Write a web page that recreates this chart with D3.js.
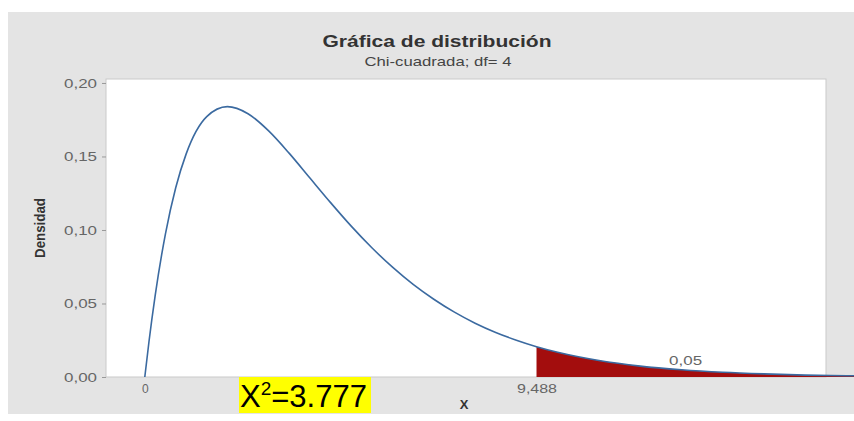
<!DOCTYPE html>
<html><head><meta charset="utf-8">
<script src="https://cdn.jsdelivr.net/npm/d3@7"></script>
<style>body{margin:0;background:#fff}svg{display:block}</style>
</head><body>
<svg id="c" width="854" height="421"></svg>
<script>
const xValues = [0,0.1,0.25,0.5,0.75,1,1.5,2,2.5,3,3.5,4,4.5,5,5.5,6,6.5,7,7.5,8,8.5,9,9.488,10,11,12,13,14,15,16,17,17.2];
const density = [0,0.0238,0.0552,0.0974,0.1289,0.1516,0.1771,0.1839,0.1791,0.1674,0.1521,0.1353,0.1186,0.1026,0.0879,0.0747,0.0630,0.0529,0.0441,0.0366,0.0303,0.0250,0.0206,0.0168,0.0112,0.0074,0.0049,0.0032,0.0021,0.0013,0.0009,0.0008];
const yTicks = [0,0.05,0.10,0.15,0.20];
const xTicks = [0,9.488];
const xTickLabels = ["0","9,488"];
const critical = 9.488;
const tailLabel = "0,05";
const title = "Gráfica de distribución";
const subtitle = "Chi-cuadrada; df= 4";
const statValue = "3.777";

const FONT = "Liberation Sans, Arial, sans-serif";
const svg = d3.select("#c");
const L=106,R=826,T=79,B=377;
svg.append("rect").attr("x",8).attr("y",12).attr("width",846).attr("height",402).attr("fill","#e4e4e4");
svg.append("rect").attr("x",L).attr("y",T).attr("width",R-L).attr("height",B-T).attr("fill","#fff").attr("stroke","#c9c9c9").attr("stroke-width",1);

const x = d3.scaleLinear().domain([-0.94,16.5]).range([L,R]);
const y = d3.scaleLinear().domain([0,0.2027]).range([B,T]);
const pts = xValues.map((v,i)=>({x:v,y:density[i]}));

const tail = pts.filter(p=>p.x>=critical);
svg.append("path").datum(tail)
  .attr("d",d3.area().x(d=>x(d.x)).y0(y(0)).y1(d=>y(d.y)).curve(d3.curveMonotoneX))
  .attr("fill","#a30d0d");

svg.append("path").datum(pts)
  .attr("d",d3.line().x(d=>x(d.x)).y(d=>y(d.y)).curve(d3.curveMonotoneX))
  .attr("fill","none").attr("stroke","#3b6aa0").attr("stroke-width",1.6);

// y axis
const ya = svg.append("g").attr("transform",`translate(${L},0)`)
  .call(d3.axisLeft(y).tickValues(yTicks).tickSize(4).tickPadding(5).tickFormat(d=>d3.format(".2f")(d).replace(".",",")));
ya.select(".domain").remove();
ya.selectAll("line").attr("stroke","#999");
ya.selectAll("text").attr("fill","#666").attr("font-family",FONT).attr("font-size","13px")
  .attr("textLength",33).attr("lengthAdjust","spacingAndGlyphs");

const xa = svg.append("g").attr("transform",`translate(0,${B})`)
  .call(d3.axisBottom(x).tickValues(xTicks).tickSize(0).tickPadding(7).tickFormat((d,i)=>xTickLabels[i]));
xa.select(".domain").remove();
xa.selectAll("text").attr("fill","#666").attr("font-family",FONT).attr("font-size","12px")
  .each(function(d,i){ if(i===1) d3.select(this).attr("textLength",40).attr("lengthAdjust","spacingAndGlyphs"); });

svg.append("text").attr("x",437).attr("y",47).attr("text-anchor","middle")
  .attr("font-family",FONT).attr("font-weight","bold").attr("font-size","16px").attr("fill","#333")
  .attr("textLength",229).attr("lengthAdjust","spacingAndGlyphs").text(title);
svg.append("text").attr("x",438).attr("y",66).attr("text-anchor","middle")
  .attr("font-family",FONT).attr("font-size","13px").attr("fill","#444")
  .attr("textLength",147).attr("lengthAdjust","spacingAndGlyphs").text(subtitle);

svg.append("text").attr("transform","translate(45,228) rotate(-90)").attr("text-anchor","middle")
  .attr("font-family",FONT).attr("font-weight","bold").attr("font-size","14px").attr("fill","#333")
  .attr("textLength",60).attr("lengthAdjust","spacingAndGlyphs").text("Densidad");
svg.append("text").attr("x",464).attr("y",409).attr("text-anchor","middle")
  .attr("font-family",FONT).attr("font-weight","bold").attr("font-size","13px").attr("fill","#333").text("X");

svg.append("text").attr("x",x(13.1)).attr("y",365).attr("text-anchor","middle")
  .attr("font-family",FONT).attr("font-size","12px").attr("fill","#666")
  .attr("textLength",33).attr("lengthAdjust","spacingAndGlyphs").text(tailLabel);

// highlighted statistic
svg.append("rect").attr("x",239).attr("y",377).attr("width",132).attr("height",36).attr("fill","#ffff00");
const st = svg.append("text").attr("x",240).attr("y",407)
  .attr("font-family",FONT).attr("font-size","31px").attr("fill","#000");
st.append("tspan").text("X");
st.append("tspan").attr("dy",-12).attr("font-size","19px").text("2");
st.append("tspan").attr("dy",12).text("="+statValue);
</script>
</body></html>
